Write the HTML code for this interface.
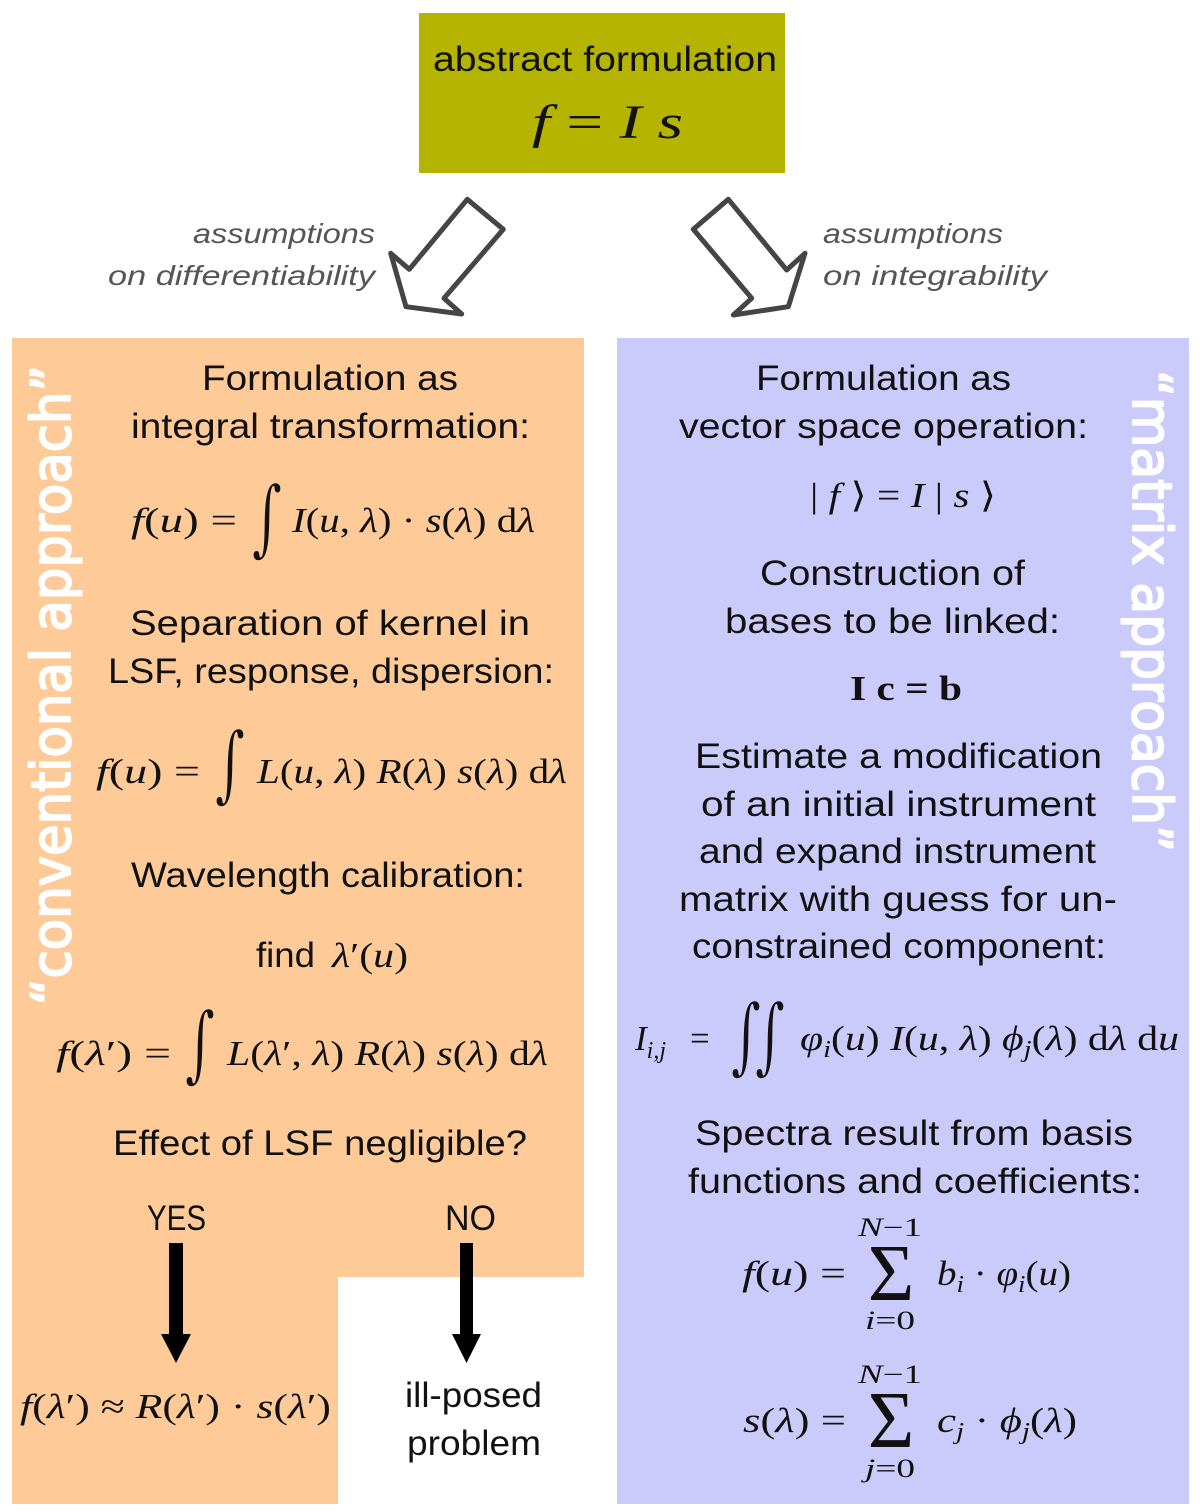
<!DOCTYPE html>
<html>
<head>
<meta charset="utf-8">
<style>
  html, body { margin: 0; padding: 0; background: #ffffff; }
  svg { display: block; }
  .sans { font-family: "Liberation Sans", "DejaVu Sans", sans-serif; fill: #111; }
  .math { font-family: "Liberation Serif", "DejaVu Serif", serif; fill: #111; }
  .it { font-style: italic; }
  .lbl { font-family: "Liberation Sans", "DejaVu Sans", sans-serif; font-style: italic; fill: #555; }
  .vert { font-family: "DejaVu Sans", "Liberation Sans", sans-serif; fill: #ffffff; stroke: #ffffff; stroke-width: 2; stroke-linejoin: round; }
  .intg { font-family: "DejaVu Serif", "Liberation Serif", serif; font-style: italic; fill: #111; stroke-width: 1.6; }
  .io { stroke: #FECB98; }
  .ip { stroke: #CBCBFB; }
</style>
</head>
<body>
<svg width="1200" height="1512" viewBox="0 0 1200 1512" xmlns="http://www.w3.org/2000/svg">
  <rect x="0" y="0" width="1200" height="1512" fill="#ffffff"/>

  <!-- Top box -->
  <rect x="419" y="13" width="366" height="160" fill="#B5B400"/>
  <text class="sans" x="433" y="71" font-size="35" textLength="344" lengthAdjust="spacingAndGlyphs">abstract formulation</text>
  <text class="math" x="532" y="138" font-size="48" textLength="151" lengthAdjust="spacingAndGlyphs"><tspan class="it">f</tspan> = <tspan class="it">I</tspan> <tspan class="it">s</tspan></text>

  <!-- Hollow arrows -->
  <polygon points="467.3,199.3 503.3,229.3 444,298.3 461.7,314 406,306.7 390.7,253.3 409.3,269.3" fill="#ffffff" stroke="#454545" stroke-width="5" stroke-linejoin="round"/>
  <polygon points="728.3,199.3 693.3,229.3 751.7,298.3 733.3,315 788.3,306.7 805,253.3 786.7,270" fill="#ffffff" stroke="#454545" stroke-width="5" stroke-linejoin="round"/>

  <!-- Assumption labels -->
  <text class="lbl" x="193" y="243" font-size="28" textLength="182" lengthAdjust="spacingAndGlyphs">assumptions</text>
  <text class="lbl" x="108" y="285" font-size="28" textLength="267" lengthAdjust="spacingAndGlyphs">on  differentiability</text>
  <text class="lbl" x="823" y="243" font-size="28" textLength="180" lengthAdjust="spacingAndGlyphs">assumptions</text>
  <text class="lbl" x="823" y="285" font-size="28" textLength="224" lengthAdjust="spacingAndGlyphs">on  integrability</text>

  <!-- Panels -->
  <polygon points="12,338 584,338 584,1277 338,1277 338,1504 12,1504" fill="#FECB98"/>
  <rect x="617" y="338" width="572" height="1166" fill="#CBCBFB"/>

  <!-- Vertical labels -->
  <text class="vert" transform="translate(70,1005) rotate(-90)" font-size="54" textLength="640" lengthAdjust="spacingAndGlyphs">“conventional approach”</text>
  <text class="vert" transform="translate(1133,370) rotate(90)" font-size="54" textLength="482" lengthAdjust="spacingAndGlyphs">“matrix approach”</text>

  <!-- LEFT PANEL -->
  <text class="sans" x="202" y="390" font-size="35" textLength="256" lengthAdjust="spacingAndGlyphs">Formulation  as</text>
  <text class="sans" x="131" y="438" font-size="35" textLength="399" lengthAdjust="spacingAndGlyphs">integral  transformation:</text>

  <!-- formula 1 -->
  <text class="math" x="131" y="532" font-size="35" textLength="106" lengthAdjust="spacingAndGlyphs"><tspan class="it">f</tspan>(<tspan class="it">u</tspan>) =</text>
  <g transform="translate(267,546) scale(0.7,1)"><text class="intg io" x="0" y="0" font-size="84" text-anchor="middle">∫</text></g>
  <text class="math" x="292" y="532" font-size="35" textLength="243" lengthAdjust="spacingAndGlyphs"><tspan class="it">I</tspan>(<tspan class="it">u</tspan>, <tspan class="it">λ</tspan>) · <tspan class="it">s</tspan>(<tspan class="it">λ</tspan>) d<tspan class="it">λ</tspan></text>

  <text class="sans" x="130" y="635" font-size="35" textLength="400" lengthAdjust="spacingAndGlyphs">Separation  of  kernel  in</text>
  <text class="sans" x="108" y="683" font-size="35" textLength="446" lengthAdjust="spacingAndGlyphs">LSF,  response,  dispersion:</text>

  <!-- formula 2 -->
  <text class="math" x="96" y="783" font-size="35" textLength="104" lengthAdjust="spacingAndGlyphs"><tspan class="it">f</tspan>(<tspan class="it">u</tspan>) =</text>
  <g transform="translate(230,792) scale(0.7,1)"><text class="intg io" x="0" y="0" font-size="84" text-anchor="middle">∫</text></g>
  <text class="math" x="257" y="783" font-size="35" textLength="310" lengthAdjust="spacingAndGlyphs"><tspan class="it">L</tspan>(<tspan class="it">u</tspan>, <tspan class="it">λ</tspan>) <tspan class="it">R</tspan>(<tspan class="it">λ</tspan>) <tspan class="it">s</tspan>(<tspan class="it">λ</tspan>) d<tspan class="it">λ</tspan></text>

  <text class="sans" x="131" y="887" font-size="35" textLength="394" lengthAdjust="spacingAndGlyphs">Wavelength  calibration:</text>
  <text class="sans" x="256" y="967" font-size="35" textLength="59" lengthAdjust="spacingAndGlyphs">find</text>
  <text class="math" x="332" y="967" font-size="35" textLength="76" lengthAdjust="spacingAndGlyphs"><tspan class="it">λ</tspan>′(<tspan class="it">u</tspan>)</text>

  <!-- formula 3 -->
  <text class="math" x="56" y="1065" font-size="35" textLength="115" lengthAdjust="spacingAndGlyphs"><tspan class="it">f</tspan>(<tspan class="it">λ</tspan>′) =</text>
  <g transform="translate(200,1072) scale(0.7,1)"><text class="intg io" x="0" y="0" font-size="84" text-anchor="middle">∫</text></g>
  <text class="math" x="227" y="1065" font-size="35" textLength="321" lengthAdjust="spacingAndGlyphs"><tspan class="it">L</tspan>(<tspan class="it">λ</tspan>′, <tspan class="it">λ</tspan>) <tspan class="it">R</tspan>(<tspan class="it">λ</tspan>) <tspan class="it">s</tspan>(<tspan class="it">λ</tspan>) d<tspan class="it">λ</tspan></text>

  <text class="sans" x="113" y="1155" font-size="35" textLength="414" lengthAdjust="spacingAndGlyphs">Effect  of  LSF  negligible?</text>

  <text class="sans" x="147" y="1230" font-size="35" textLength="59" lengthAdjust="spacingAndGlyphs">YES</text>
  <text class="sans" x="445" y="1230" font-size="35" textLength="51" lengthAdjust="spacingAndGlyphs">NO</text>

  <!-- solid arrows -->
  <rect x="169" y="1243" width="14" height="92" fill="#000"/>
  <polygon points="161,1334 191,1334 176,1363" fill="#000"/>
  <rect x="460" y="1243" width="13" height="92" fill="#000"/>
  <polygon points="452,1334 481,1334 466.5,1363" fill="#000"/>

  <text class="math" x="20" y="1418" font-size="35" textLength="311" lengthAdjust="spacingAndGlyphs"><tspan class="it">f</tspan>(<tspan class="it">λ</tspan>′) ≈ <tspan class="it">R</tspan>(<tspan class="it">λ</tspan>′) · <tspan class="it">s</tspan>(<tspan class="it">λ</tspan>′)</text>

  <text class="sans" x="405" y="1407" font-size="35" textLength="137" lengthAdjust="spacingAndGlyphs">ill-posed</text>
  <text class="sans" x="407" y="1455" font-size="35" textLength="134" lengthAdjust="spacingAndGlyphs">problem</text>

  <!-- RIGHT PANEL -->
  <text class="sans" x="756" y="390" font-size="35" textLength="255" lengthAdjust="spacingAndGlyphs">Formulation  as</text>
  <text class="sans" x="679" y="438" font-size="35" textLength="409" lengthAdjust="spacingAndGlyphs">vector  space  operation:</text>
  <text class="math" x="810" y="507" font-size="35" textLength="186" lengthAdjust="spacingAndGlyphs">| <tspan class="it">f</tspan> ⟩ = <tspan class="it">I</tspan> | <tspan class="it">s</tspan> ⟩</text>

  <text class="sans" x="760" y="585" font-size="35" textLength="265" lengthAdjust="spacingAndGlyphs">Construction  of</text>
  <text class="sans" x="725" y="633" font-size="35" textLength="335" lengthAdjust="spacingAndGlyphs">bases  to  be  linked:</text>
  <text class="math" x="850" y="700" font-size="35" font-weight="bold" textLength="112" lengthAdjust="spacingAndGlyphs">I c = b</text>

  <text class="sans" x="695" y="768" font-size="35" textLength="407" lengthAdjust="spacingAndGlyphs">Estimate  a  modification</text>
  <text class="sans" x="701" y="816" font-size="35" textLength="395" lengthAdjust="spacingAndGlyphs">of  an  initial  instrument</text>
  <text class="sans" x="699" y="863" font-size="35" textLength="397" lengthAdjust="spacingAndGlyphs">and  expand  instrument</text>
  <text class="sans" x="679" y="911" font-size="35" textLength="438" lengthAdjust="spacingAndGlyphs">matrix  with  guess  for  un-</text>
  <text class="sans" x="692" y="958" font-size="35" textLength="414" lengthAdjust="spacingAndGlyphs">constrained  component:</text>

  <!-- double integral formula -->
  <text class="math" x="635" y="1050" font-size="35"><tspan class="it">I</tspan><tspan class="it" font-size="24" dy="8">i,j</tspan></text>
  <text class="math" x="690" y="1050" font-size="35">=</text>
  <g transform="translate(746,1064) scale(0.7,1)"><text class="intg ip" x="0" y="0" font-size="84" text-anchor="middle">∫</text></g>
  <g transform="translate(770,1064) scale(0.7,1)"><text class="intg ip" x="0" y="0" font-size="84" text-anchor="middle">∫</text></g>
  <text class="math" x="800" y="1050" font-size="35" textLength="379" lengthAdjust="spacingAndGlyphs"><tspan class="it">φ</tspan><tspan class="it" font-size="24" dy="7">i</tspan><tspan dy="-7">(</tspan><tspan class="it">u</tspan>) <tspan class="it">I</tspan>(<tspan class="it">u</tspan>, <tspan class="it">λ</tspan>) <tspan class="it">ϕ</tspan><tspan class="it" font-size="24" dy="7">j</tspan><tspan dy="-7">(</tspan><tspan class="it">λ</tspan>) d<tspan class="it">λ</tspan> d<tspan class="it">u</tspan></text>

  <text class="sans" x="695" y="1145" font-size="35" textLength="438" lengthAdjust="spacingAndGlyphs">Spectra  result  from  basis</text>
  <text class="sans" x="688" y="1193" font-size="35" textLength="454" lengthAdjust="spacingAndGlyphs">functions  and  coefficients:</text>

  <!-- sum 1 -->
  <text class="math" x="858" y="1236" font-size="26" textLength="64" lengthAdjust="spacingAndGlyphs"><tspan class="it">N</tspan>−1</text>
  <text class="math" x="742" y="1285" font-size="35" textLength="104" lengthAdjust="spacingAndGlyphs"><tspan class="it">f</tspan>(<tspan class="it">u</tspan>) =</text>
  <text class="math" x="891" y="1300" font-size="80" text-anchor="middle">Σ</text>
  <text class="math" x="937" y="1285" font-size="35" textLength="134" lengthAdjust="spacingAndGlyphs"><tspan class="it">b</tspan><tspan class="it" font-size="24" dy="7">i</tspan><tspan dy="-7"> · </tspan><tspan class="it">φ</tspan><tspan class="it" font-size="24" dy="7">i</tspan><tspan dy="-7">(</tspan><tspan class="it">u</tspan>)</text>
  <text class="math" x="865" y="1329" font-size="26" textLength="50" lengthAdjust="spacingAndGlyphs"><tspan class="it">i</tspan>=0</text>

  <!-- sum 2 -->
  <text class="math" x="858" y="1383" font-size="26" textLength="64" lengthAdjust="spacingAndGlyphs"><tspan class="it">N</tspan>−1</text>
  <text class="math" x="743" y="1432" font-size="35" textLength="103" lengthAdjust="spacingAndGlyphs"><tspan class="it">s</tspan>(<tspan class="it">λ</tspan>) =</text>
  <text class="math" x="891" y="1447" font-size="80" text-anchor="middle">Σ</text>
  <text class="math" x="937" y="1432" font-size="35" textLength="140" lengthAdjust="spacingAndGlyphs"><tspan class="it">c</tspan><tspan class="it" font-size="24" dy="7">j</tspan><tspan dy="-7"> · </tspan><tspan class="it">ϕ</tspan><tspan class="it" font-size="24" dy="7">j</tspan><tspan dy="-7">(</tspan><tspan class="it">λ</tspan>)</text>
  <text class="math" x="865" y="1477" font-size="26" textLength="50" lengthAdjust="spacingAndGlyphs"><tspan class="it">j</tspan>=0</text>
</svg>
</body>
</html>
